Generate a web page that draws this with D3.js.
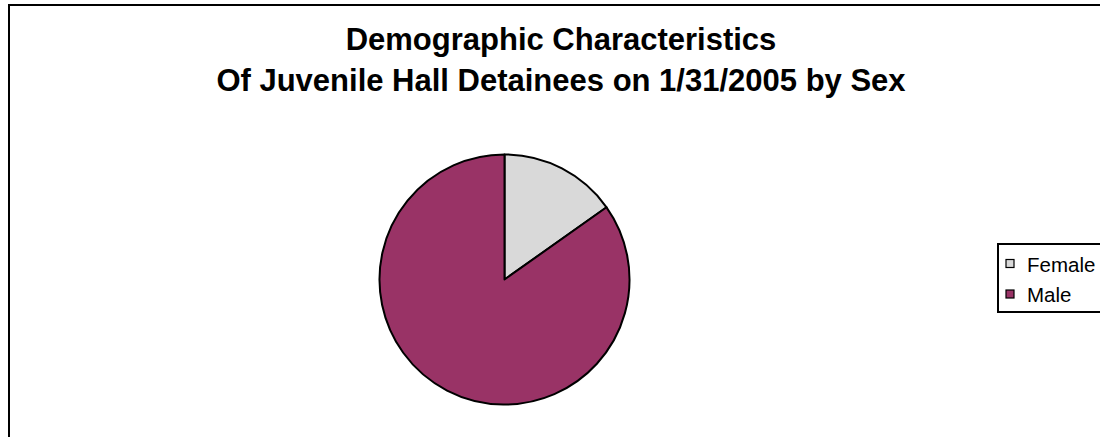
<!DOCTYPE html>
<html>
<head>
<meta charset="utf-8">
<script src="https://cdn.jsdelivr.net/npm/d3@7"></script>
<style>
  html, body { margin: 0; padding: 0; background: #fff; }
  svg { display: block; }
</style>
</head>
<body>
<svg id="chart" width="1100" height="437"></svg>
<script>
const titleLines = ["Demographic Characteristics", "Of Juvenile Hall Detainees on 1/31/2005 by Sex"];
const categories = ["Female", "Male"];
const values = [15.2, 84.8];
const colors = ["#D9D9D9", "#993366"];

const svg = d3.select("#chart");

// chart border
svg.append("rect")
  .attr("x", 9).attr("y", 5)
  .attr("width", 1200).attr("height", 500)
  .attr("fill", "#fff")
  .attr("stroke", "#000").attr("stroke-width", 2);

// title
const title = svg.append("text")
  .attr("text-anchor", "middle")
  .attr("font-family", "Liberation Sans, Arial, sans-serif")
  .attr("font-weight", "bold")
  .attr("font-size", 31)
  .attr("fill", "#000");
titleLines.forEach((t, i) => {
  title.append("tspan").attr("x", 561).attr("y", 49.5 + i * 41).text(t);
});

// pie
const cx = 504.5, cy = 279.5, r = 125;
const pie = d3.pie().sort(null).value(d => d.v);
const arc = d3.arc().innerRadius(0).outerRadius(r);
const data = categories.map((c, i) => ({ c, v: values[i], col: colors[i] }));
const g = svg.append("g").attr("transform", `translate(${cx},${cy})`);
g.selectAll("path")
  .data(pie(data))
  .join("path")
  .attr("d", arc)
  .attr("fill", d => d.data.col)
  .attr("stroke", "#000")
  .attr("stroke-width", 2)
  .attr("stroke-linejoin", "round");

// legend
const lg = svg.append("g");
lg.append("rect")
  .attr("x", 998).attr("y", 244)
  .attr("width", 200).attr("height", 68)
  .attr("fill", "#fff")
  .attr("stroke", "#000").attr("stroke-width", 2);
const items = lg.selectAll("g.item")
  .data(data)
  .join("g")
  .attr("class", "item")
  .attr("transform", (d, i) => `translate(1006,${259.5 + i * 30.5})`);
items.append("rect")
  .attr("x", 0).attr("y", 0)
  .attr("width", 8).attr("height", 8)
  .attr("fill", d => d.col)
  .attr("stroke", "#000").attr("stroke-width", 1.2);
items.append("text")
  .attr("x", 21).attr("y", 12)
  .attr("font-family", "Liberation Sans, Arial, sans-serif")
  .attr("font-size", 20.5)
  .attr("fill", "#000")
  .text(d => d.c);
</script>
</body>
</html>
